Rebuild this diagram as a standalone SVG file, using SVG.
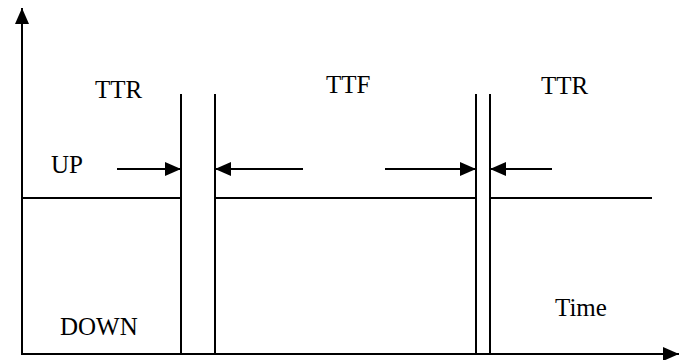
<svg xmlns="http://www.w3.org/2000/svg" width="686" height="360" viewBox="0 0 686 360">
  <style>
    .ln { stroke: #000; stroke-width: 2; fill: none; }
    .lbl { font-family: "Liberation Serif", "Times New Roman", serif; font-size: 25px; fill: #000; }
  </style>
  <defs>
    <marker id="ah" viewBox="0 0 16 14" refX="16" refY="7" markerWidth="16" markerHeight="14" markerUnits="userSpaceOnUse" orient="auto">
      <path d="M0,0 L16,7 L0,14 Z" fill="#000"/>
    </marker>
  </defs>
  <rect width="686" height="360" fill="#fff"/>

  <!-- axes -->
  <g id="axes">
    <line class="ln" x1="22" y1="355" x2="22" y2="8" marker-end="url(#ah)"/>
    <line class="ln" x1="21" y1="354" x2="679" y2="354" marker-end="url(#ah)"/>
  </g>

  <!-- state line and transition edges -->
  <g id="timeline">
    <line class="ln" x1="22" y1="198" x2="181" y2="198"/>
    <line class="ln" x1="215" y1="198" x2="476" y2="198"/>
    <line class="ln" x1="490" y1="198" x2="652" y2="198"/>
    <line class="ln" x1="181" y1="94" x2="181" y2="354"/>
    <line class="ln" x1="215" y1="94" x2="215" y2="354"/>
    <line class="ln" x1="476" y1="94" x2="476" y2="354"/>
    <line class="ln" x1="490" y1="94" x2="490" y2="354"/>
  </g>

  <!-- interval arrows -->
  <g id="connectors">
    <line class="ln" x1="117" y1="169" x2="181" y2="169" marker-end="url(#ah)"/>
    <line class="ln" x1="303" y1="169" x2="215" y2="169" marker-end="url(#ah)"/>
    <line class="ln" x1="385" y1="169" x2="476" y2="169" marker-end="url(#ah)"/>
    <line class="ln" x1="552" y1="169" x2="490" y2="169" marker-end="url(#ah)"/>
  </g>

  <g id="labels">
    <text class="lbl" x="95" y="98">TTR</text>
    <text class="lbl" x="326" y="93">TTF</text>
    <text class="lbl" x="541" y="94">TTR</text>
    <text class="lbl" x="51" y="173">UP</text>
    <text class="lbl" x="60" y="335">DOWN</text>
    <text class="lbl" x="555" y="316">Time</text>
  </g>
</svg>
